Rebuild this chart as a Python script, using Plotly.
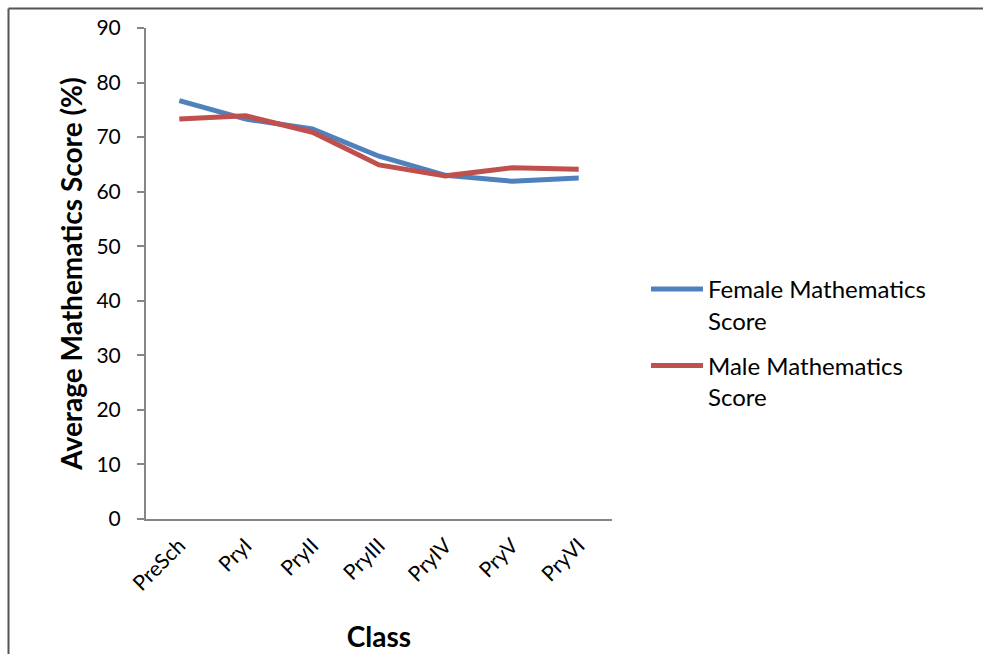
import plotly.graph_objects as go

# Average mathematics score (%) by class level
classes = ["PreSch", "PryI", "PryII", "PryIII", "PryIV", "PryV", "PryVI"]
female_scores = [76.7, 73.3, 71.5, 66.5, 63.0, 61.9, 62.5]
male_scores = [73.3, 73.9, 70.9, 64.9, 62.9, 64.4, 64.1]
y_ticks = [0, 10, 20, 30, 40, 50, 60, 70, 80, 90]

W, H = 983, 654
L, R, T, B = 146, 612, 28, 519  # plot area in pixels


def px(x):
    return (x - L) / (R - L)


def py(y):
    return (B - y) / (B - T)


FONT = "Lato"
fig = go.Figure()
fig.add_trace(go.Scatter(
    x=classes, y=female_scores, mode="lines",
    name="Female Mathematics<br>Score", legendgroup="female",
    line=dict(color="#4F81BD", width=5),
))
fig.add_trace(go.Scatter(
    x=classes, y=male_scores, mode="lines",
    name="Male Mathematics<br>Score", legendgroup="male",
    line=dict(color="#C0504D", width=5),
))

fig.update_layout(
    width=W, height=H,
    margin=dict(l=L, r=W - R, t=T, b=H - B, autoexpand=False),
    paper_bgcolor="white", plot_bgcolor="white",
    font=dict(family=FONT, color="#000000"),
    showlegend=True,
    legend=dict(
        x=px(646), y=py(267), xanchor="left", yanchor="top",
        font=dict(size=24, family=FONT), valign="top",
        traceorder="grouped", tracegroupgap=11, itemwidth=52,
        bgcolor="rgba(0,0,0,0)",
    ),
    xaxis=dict(
        type="category", range=[-0.5, 6.5],
        showline=True, linecolor="#868686", linewidth=2,
        ticks="", showgrid=False, zeroline=False,
        tickangle=-45, tickfont=dict(size=21, family=FONT),
        ticklabelstandoff=4,
        title=dict(text="<b>Class</b>", font=dict(size=28, family=FONT), standoff=34),
    ),
    yaxis=dict(
        range=[0, 90], tickvals=y_ticks,
        showline=True, linecolor="#868686", linewidth=2,
        ticks="outside", ticklen=7, tickcolor="#868686", tickwidth=2,
        ticklabelstandoff=12,
        showgrid=False, zeroline=False,
        tickfont=dict(size=21, family=FONT),
        title=dict(text="<b>Average Mathematics Score (%)</b>",
                   font=dict(size=28, family=FONT), standoff=6),
    ),
    shapes=[
        # chart frame (top and left edges)
        dict(type="line", xref="paper", yref="paper",
             x0=px(8.5), x1=px(W + 5), y0=py(8.5), y1=py(8.5),
             line=dict(color="#555555", width=2)),
        dict(type="line", xref="paper", yref="paper",
             x0=px(8.5), x1=px(8.5), y0=py(8.5), y1=py(H + 5),
             line=dict(color="#555555", width=2)),
    ],
)

fig.write_html("out.html")
